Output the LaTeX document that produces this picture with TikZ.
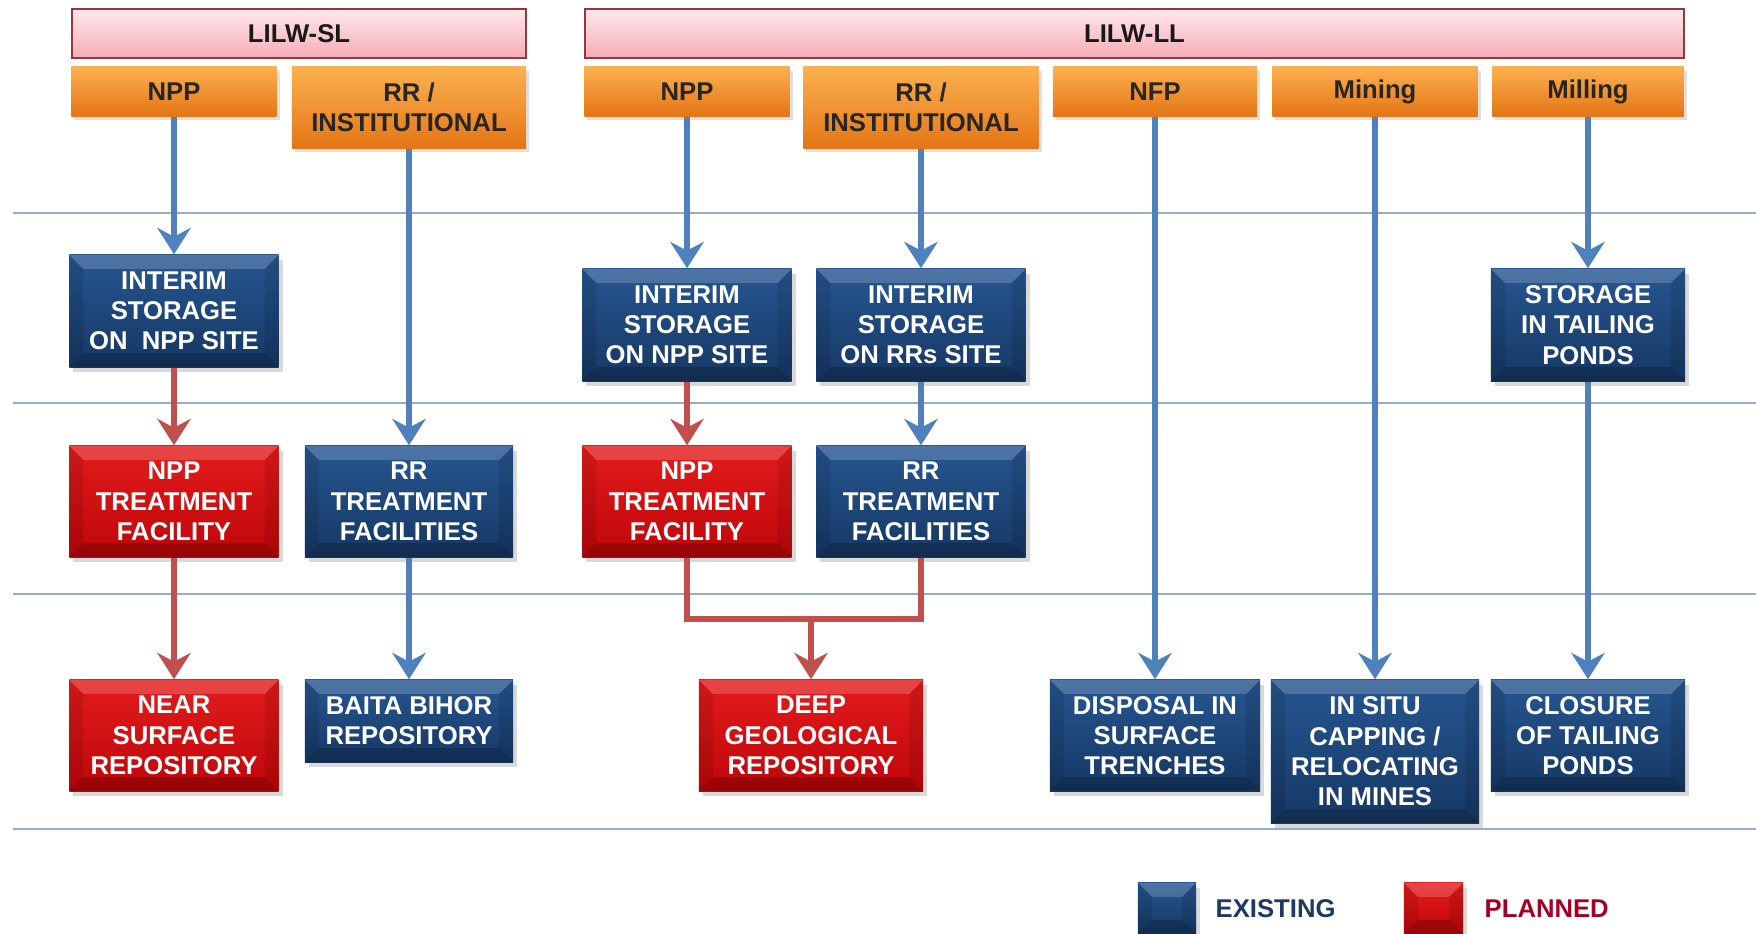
\documentclass[tikz,border=0pt]{standalone}
\usepackage{fontspec}
\setmainfont{Liberation Sans}
\usetikzlibrary{arrows.meta,shadows}

\definecolor{blueTop}{RGB}{38,86,145}
\definecolor{blueBot}{RGB}{22,56,100}
\definecolor{redTop}{RGB}{228,28,28}
\definecolor{redBot}{RGB}{190,6,10}
\definecolor{orangeTop}{RGB}{252,176,80}
\definecolor{orangeBot}{RGB}{228,118,22}
\definecolor{pinkTop}{RGB}{254,232,236}
\definecolor{pinkBot}{RGB}{246,172,182}
\definecolor{pinkLine}{RGB}{150,55,60}
\definecolor{flowBlue}{RGB}{79,129,189}
\definecolor{flowRed}{RGB}{192,80,77}
\definecolor{ruleBlue}{RGB}{150,174,204}
\definecolor{legBlue}{RGB}{31,56,100}
\definecolor{legRed}{RGB}{165,0,33}

\tikzset{
  bevel/.style={path picture={
      \fill[white,opacity=.18] (path picture bounding box.north west) -- (path picture bounding box.north east)
        -- ([shift={(-.14cm,-.14cm)}]path picture bounding box.north east) -- ([shift={(.14cm,-.14cm)}]path picture bounding box.north west) -- cycle;
      \fill[black,opacity=.2] (path picture bounding box.south west) -- (path picture bounding box.south east)
        -- ([shift={(-.14cm,.14cm)}]path picture bounding box.south east) -- ([shift={(.14cm,.14cm)}]path picture bounding box.south west) -- cycle;
      \fill[black,opacity=.1] (path picture bounding box.south west) -- (path picture bounding box.north west)
        -- ([shift={(.14cm,-.14cm)}]path picture bounding box.north west) -- ([shift={(.14cm,.14cm)}]path picture bounding box.south west) -- cycle;
      \fill[black,opacity=.1] (path picture bounding box.south east) -- (path picture bounding box.north east)
        -- ([shift={(-.14cm,-.14cm)}]path picture bounding box.north east) -- ([shift={(-.14cm,.14cm)}]path picture bounding box.south east) -- cycle;
    }},
  box/.style={minimum width=2.09cm, minimum height=1.12cm, inner sep=0pt, align=center,
    text=white, font=\fontsize{7.3}{8.6}\selectfont\bfseries,
    drop shadow={opacity=.3, shadow xshift=.04cm, shadow yshift=-.05cm}, bevel},
  existing/.style={box, top color=blueTop, bottom color=blueBot},
  planned/.style={box, top color=redTop, bottom color=redBot},
  source/.style={minimum width=2.05cm, minimum height=.49cm, inner sep=0pt, align=center,
    text=black!85, font=\fontsize{7.3}{8.6}\selectfont\bfseries,
    top color=orangeTop, bottom color=orangeBot,
    drop shadow={opacity=.25, shadow xshift=.03cm, shadow yshift=-.04cm}},
  category/.style={minimum height=.49cm, inner sep=0pt, draw=pinkLine, line width=.6pt,
    text=black!90, font=\fontsize{7.3}{8.6}\selectfont\bfseries,
    top color=pinkTop, bottom color=pinkBot},
  existflow/.style={draw=flowBlue, line width=1.6pt, -{Stealth[width=9.5pt,length=7.5pt,inset=2.5pt]}},
  planflow/.style={draw=flowRed, line width=1.6pt, -{Stealth[width=9.5pt,length=7.5pt,inset=2.5pt]}},
  legendtext/.style={anchor=west, inner sep=0pt, font=\fontsize{7.3}{8.6}\selectfont\bfseries}
}

\begin{document}
\begin{tikzpicture}[x=0.01cm, y=-0.01cm]
    \useasboundingbox (0,0) rectangle (1756,934);

    % Separator rules
    \foreach \ry in {213,403,594,829}
      \draw[ruleBlue, line width=.7pt] (13,\ry) -- (1756,\ry);

    % Waste categories
    \node[category, minimum width=4.54cm] (catSL) at (299,33.5) {LILW-SL};
    \node[category, minimum width=10.99cm] (catLL) at (1134.5,33.5) {LILW-LL};

    % Waste producers
    \node[source] (srcNppSL) at (174,91.5) {NPP};
    \node[source, minimum width=2.34cm, minimum height=.81cm] (srcRrSL) at (409,107.5) {RR /\\INSTITUTIONAL};
    \node[source] (srcNppLL) at (687,91.5) {NPP};
    \node[source, minimum width=2.35cm, minimum height=.81cm] (srcRrLL) at (921,107.5) {RR /\\INSTITUTIONAL};
    \node[source, minimum width=2.04cm] (srcNfp) at (1155,91.5) {NFP};
    \node[source] (srcMining) at (1375,91.5) {Mining};
    \node[source, minimum width=1.91cm] (srcMilling) at (1588,91.5) {Milling};

    % Storage
    \node[existing] (stoNppSL) at (174,311) {INTERIM\\STORAGE\\ON~ NPP SITE};
    \node[existing] (stoNppLL) at (687,325) {INTERIM\\STORAGE\\ON NPP SITE};
    \node[existing] (stoRrLL) at (921,325) {INTERIM\\STORAGE\\ON RRs SITE};
    \node[existing, minimum width=1.94cm] (stoPonds) at (1588,325) {STORAGE\\IN TAILING\\PONDS};

    % Treatment
    \node[planned, minimum height=1.11cm] (trtNppSL) at (174,501.5) {NPP\\TREATMENT\\FACILITY};
    \node[existing, minimum height=1.11cm, minimum width=2.08cm] (trtRrSL) at (409,501.5) {RR\\TREATMENT\\FACILITIES};
    \node[planned, minimum height=1.11cm] (trtNppLL) at (687,501.5) {NPP\\TREATMENT\\FACILITY};
    \node[existing, minimum height=1.11cm] (trtRrLL) at (921,501.5) {RR\\TREATMENT\\FACILITIES};

    % Disposal
    \node[planned, minimum height=1.11cm] (dspNear) at (174,735.5) {NEAR\\SURFACE\\REPOSITORY};
    \node[existing, minimum height=.82cm, minimum width=2.08cm] (dspBaita) at (409,721) {BAITA BIHOR\\REPOSITORY};
    \node[planned, minimum height=1.11cm, minimum width=2.24cm] (dspDeep) at (811,735.5) {DEEP\\GEOLOGICAL\\REPOSITORY};
    \node[existing, minimum height=1.11cm, minimum width=2.10cm] (dspTrench) at (1155,735.5) {DISPOSAL IN\\SURFACE\\TRENCHES};
    \node[existing, minimum height=1.43cm, minimum width=2.08cm] (dspMines) at (1375,751.5) {IN SITU\\CAPPING /\\RELOCATING\\IN MINES};
    \node[existing, minimum height=1.11cm, minimum width=1.94cm] (dspPonds) at (1588,735.5) {CLOSURE\\OF TAILING\\PONDS};

    % Flows, LILW-SL
    \draw[existflow] (srcNppSL) -- (stoNppSL);
    \draw[planflow] (stoNppSL) -- (trtNppSL);
    \draw[planflow] (trtNppSL) -- (dspNear);
    \draw[existflow] (srcRrSL) -- (trtRrSL);
    \draw[existflow] (trtRrSL) -- (dspBaita);

    % Flows, LILW-LL
    \draw[existflow] (srcNppLL) -- (stoNppLL);
    \draw[planflow] (stoNppLL) -- (trtNppLL);
    \draw[existflow] (srcRrLL) -- (stoRrLL);
    \draw[existflow] (stoRrLL) -- (trtRrLL);
    \coordinate (deepJoin) at (811,619);
    \draw[flowRed, line width=1.6pt] (trtNppLL.south) |- (deepJoin) -| (trtRrLL.south);
    \draw[planflow] (deepJoin) -- (dspDeep);
    \draw[existflow] (srcNfp) -- (dspTrench);
    \draw[existflow] (srcMining) -- (dspMines);
    \draw[existflow] (srcMilling) -- (stoPonds);
    \draw[existflow] (stoPonds) -- (dspPonds);

    % Legend
    \node[existing, minimum width=.58cm, minimum height=.51cm] (keyExist) at (1167,908.5) {};
    \node[legendtext, text=legBlue] (keyExistText) at (1215,909) {EXISTING};
    \node[planned, minimum width=.59cm, minimum height=.51cm] (keyPlan) at (1433.5,908.5) {};
    \node[legendtext, text=legRed] (keyPlanText) at (1484,909) {PLANNED};
\end{tikzpicture}
\end{document}
